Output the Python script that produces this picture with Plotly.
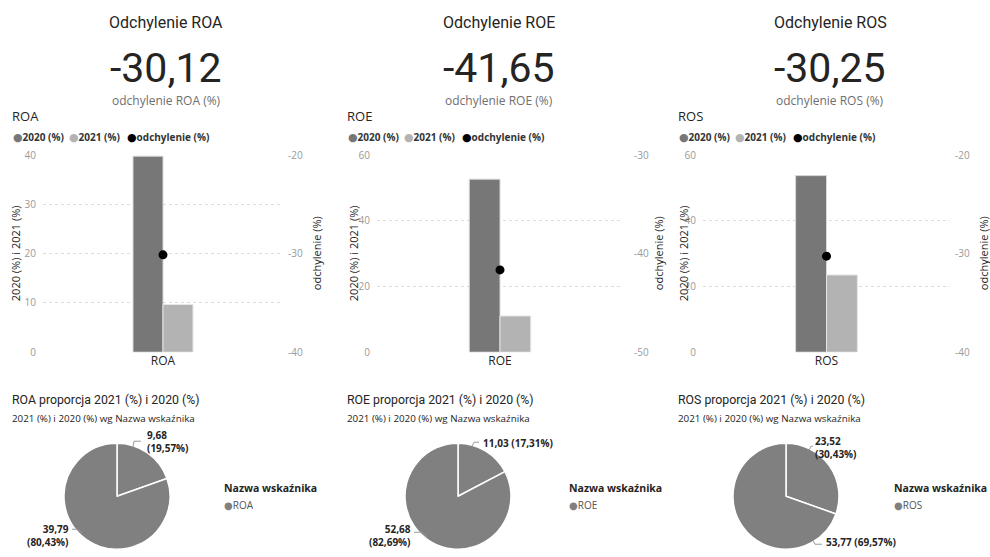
import plotly.graph_objects as go

# ---- data -------------------------------------------------------------
indicators = ["ROA", "ROE", "ROS"]
values_2020 = [39.79, 52.68, 53.77]
values_2021 = [9.68, 11.03, 23.52]
deviation = [-30.12, -41.65, -30.25]

left_ranges = [[0, 40], [0, 60], [0, 60]]
left_dticks = [10, 20, 20]
right_ranges = [[-40, -20], [-50, -30], [-40, -20]]

# ---- styling ----------------------------------------------------------
W, H = 990, 557
C_2020 = "#777777"
C_2021 = "#b3b3b3"
C_DEV = "#000000"
C_PIE = "#808080"
C_TXT = "#252423"
C_SUB = "#6f6f6f"
C_TICK = "#9a9a9a"
TITLE_FONT = "Roboto, DejaVu Sans, sans-serif"
BODY_FONT = "Open Sans, Noto Sans, sans-serif"

# the page shows the figure with a small vertical inset; layout positions
# below are given in screen pixels and converted here
Y_INSET = 6.9
Y_SCALE = 0.9746


def px(x):
    return x / W


def py(y):
    return 1 - ((y - Y_INSET) / Y_SCALE) / H


def fmt(v):
    return f"{v:.2f}".replace(".", ",")


def label(x, y, text, font, xanchor="center", yanchor="middle", **kw):
    yy = 0 if y is None else py(y)
    return dict(x=px(x), y=yy, xref="paper", yref="paper", text=text,
                showarrow=False, xanchor=xanchor, yanchor=yanchor, font=font, **kw)


def dot(color, size=11):
    return (f"<span style='color:{color};font-size:{size}px;"
            f"font-family:DejaVu Sans'>●</span>")


# panel geometry (pixels)
panel_left = [10, 345, 676]
card_center = [166, 499, 830]
plot_x = [(43, 283), (377, 623), (703, 950)]
plot_y = (154, 351)
ytitle_x = [15, 353, 683]
y2title_x = [316, 658, 983]
pie_center = [(117, 495), (458, 495), (786, 495)]
pie_r = 53
pie_legend_x = [222, 567, 892]

fig = go.Figure()
annotations = []
shapes = []
layout_axes = {}

for i, name in enumerate(indicators):
    xa = "x" if i == 0 else f"x{i + 1}"
    ya = "y" if i == 0 else f"y{2 * i + 1}"
    ya2 = f"y{2 * i + 2}"
    xkey = "xaxis" if i == 0 else f"xaxis{i + 1}"
    ykey = "yaxis" if i == 0 else f"yaxis{2 * i + 1}"
    y2key = f"yaxis{2 * i + 2}"

    fig.add_trace(go.Bar(x=[name], y=[values_2020[i]], xaxis=xa, yaxis=ya,
                         name="2020 (%)", offsetgroup="a",
                         marker=dict(color=C_2020, line=dict(color="#d8d8d8", width=1))))
    fig.add_trace(go.Bar(x=[name], y=[values_2021[i]], xaxis=xa, yaxis=ya,
                         name="2021 (%)", offsetgroup="b",
                         marker=dict(color=C_2021, line=dict(color="#e6e6e6", width=1))))
    fig.add_trace(go.Scatter(x=[name], y=[deviation[i]], xaxis=xa, yaxis=ya2,
                             name="odchylenie (%)", mode="markers",
                             marker=dict(color=C_DEV, size=9)))

    x0, x1 = plot_x[i]
    dom_y = [py(plot_y[1]), py(plot_y[0])]
    lo, hi = left_ranges[i]
    lticks = list(range(lo, hi + 1, left_dticks[i]))
    rlo, rhi = right_ranges[i]
    rticks = list(range(rlo, rhi + 1, 10))
    layout_axes[xkey] = dict(domain=[px(x0), px(x1)], anchor=ya, showgrid=False,
                             zeroline=False, showline=False, ticks="",
                             tickfont=dict(family=BODY_FONT, size=12, color=C_TXT),
                             fixedrange=True)
    layout_axes[ykey] = dict(domain=dom_y, anchor=xa, range=[lo, hi],
                             tickvals=lticks, ticktext=[str(t) for t in lticks],
                             showgrid=True, gridcolor="#dcdcdc",
                             griddash="dot", gridwidth=1, zeroline=False,
                             tickfont=dict(family=BODY_FONT, size=10, color=C_TICK),
                             ticklabelstandoff=6)
    layout_axes[y2key] = dict(overlaying=ya, side="right", anchor=xa,
                              range=[rlo, rhi], tickvals=rticks,
                              ticktext=[str(t) for t in rticks], showgrid=False,
                              zeroline=False,
                              tickfont=dict(family=BODY_FONT, size=10, color=C_TICK),
                              ticklabelstandoff=4 if i != 1 else 10)

    # axis titles
    axis_font = dict(family=BODY_FONT, size=11, color=C_TXT)
    annotations.append(label(ytitle_x[i], 252, "2020 (%) i 2021 (%)", axis_font, textangle=-90))
    annotations.append(label(y2title_x[i], 252, "odchylenie (%)", axis_font, textangle=-90))

    # KPI card
    annotations.append(label(card_center[i], 21, f"Odchylenie {name}",
                             dict(family=TITLE_FONT, size=16, color=C_TXT)))
    annotations.append(label(card_center[i], 67, fmt(deviation[i]),
                             dict(family=TITLE_FONT, size=41, color=C_TXT)))
    annotations.append(label(card_center[i], 99, f"odchylenie {name} (%)",
                             dict(family=BODY_FONT, size=12, color=C_SUB)))

    # chart title and legend row
    pl = panel_left[i]
    annotations.append(label(pl, 115, name, dict(family=BODY_FONT, size=13, color=C_TXT),
                             xanchor="left"))
    legend_items = [(C_2020, "2020 (%)", 1), (C_2021, "2021 (%)", 57), (C_DEV, "odchylenie (%)", 115)]
    for col, lab, off in legend_items:
        annotations.append(label(pl + off, 136, f"{dot(col)}<b>{lab}</b>",
                                 dict(family=BODY_FONT, size=10, color="#333333"),
                                 xanchor="left"))

    # pie section
    annotations.append(label(pl, 399, f"{name} proporcja 2021 (%) i 2020 (%)",
                             dict(family=TITLE_FONT, size=12.3, color=C_TXT), xanchor="left"))
    annotations.append(label(pl, 417, "2021 (%) i 2020 (%) wg Nazwa wskaźnika",
                             dict(family=BODY_FONT, size=9.8, color=C_TXT), xanchor="left"))

    cx, cy = pie_center[i]
    fig.add_trace(go.Pie(values=[values_2021[i], values_2020[i]],
                         labels=["2021 (%)", "2020 (%)"],
                         domain=dict(x=[px(cx - pie_r), px(cx + pie_r)],
                                     y=[py(cy + pie_r), py(cy - pie_r)]),
                         marker=dict(colors=[C_PIE, C_PIE], line=dict(color="white", width=1.5)),
                         sort=False, direction="clockwise", rotation=0,
                         textinfo="none", showlegend=False))

    total = values_2021[i] + values_2020[i]
    p21 = values_2021[i] / total * 100
    p20 = values_2020[i] / total * 100

    lbl_font = dict(family=BODY_FONT, size=10, color=C_TXT)
    # bottom labels sit on the lower edge of the page (y=None -> paper 0)
    if name == "ROA":
        annotations.append(label(145, 440, f"<b>{fmt(values_2021[i])}<br>({fmt(p21)}%)</b>",
                                 lbl_font, xanchor="left", align="left"))
        annotations.append(label(71, None, f"<b>{fmt(values_2020[i])}<br>({fmt(p20)}%)</b>",
                                 lbl_font, xanchor="right", yanchor="bottom", align="right"))
        lines = [[(133, 446), (134, 440), (141, 440)], [(72, 528), (78, 528), (82, 532)]]
    elif name == "ROE":
        annotations.append(label(481, 442, f"<b>{fmt(values_2021[i])} ({fmt(p21)}%)</b>",
                                 lbl_font, xanchor="left", align="left"))
        annotations.append(label(413, None, f"<b>{fmt(values_2020[i])}<br>({fmt(p20)}%)</b>",
                                 lbl_font, xanchor="right", yanchor="bottom", align="right"))
        lines = [[(472, 445), (474, 441), (479, 441)], [(414, 531), (422, 531), (427, 536)]]
    else:
        annotations.append(label(813, 446, f"<b>{fmt(values_2021[i])}<br>({fmt(p21)}%)</b>",
                                 lbl_font, xanchor="left", align="left"))
        annotations.append(label(824, None, f"<b>{fmt(values_2020[i])} ({fmt(p20)}%)</b>",
                                 lbl_font, xanchor="left", yanchor="bottom", align="left"))
        lines = [[(809, 449), (811, 445), (813, 445)], [(813, 539), (815, 543), (822, 543)]]

    for pts in lines:
        path = "M " + " L ".join(f"{px(a):.5f},{py(b):.5f}" for a, b in pts)
        shapes.append(dict(type="path", path=path, xref="paper", yref="paper",
                           line=dict(color="#9a9a9a", width=1)))

    # pie legend
    lx = pie_legend_x[i]
    annotations.append(label(lx, 487, "<b>Nazwa wskaźnika</b>",
                             dict(family=BODY_FONT, size=10.5, color=C_TXT), xanchor="left"))
    annotations.append(label(lx, 504, f"{dot(C_PIE, 10)}{name}",
                             dict(family=BODY_FONT, size=10, color="#555555"), xanchor="left"))

fig.update_layout(
    width=W, height=H,
    margin=dict(l=0, r=0, t=0, b=0),
    paper_bgcolor="white", plot_bgcolor="white",
    showlegend=False,
    barmode="group", bargap=0.75, bargroupgap=0,
    annotations=annotations, shapes=shapes,
    **layout_axes,
)

fig.write_html("out.html")
